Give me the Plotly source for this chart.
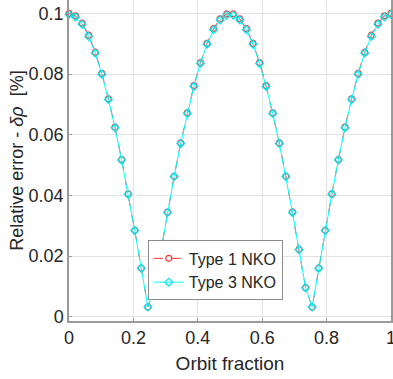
import plotly.graph_objects as go

orbit_fraction = [0.0, 0.0204, 0.0408, 0.0612, 0.0816, 0.1020, 0.1224, 0.1429, 0.1633, 0.1837,
                  0.2041, 0.2245, 0.2449, 0.2653, 0.2857, 0.3061, 0.3265, 0.3469, 0.3673, 0.3878,
                  0.4082, 0.4286, 0.4490, 0.4694, 0.4898, 0.5102, 0.5306, 0.5510, 0.5714, 0.5918,
                  0.6122, 0.6327, 0.6531, 0.6735, 0.6939, 0.7143, 0.7347, 0.7551, 0.7755, 0.7959,
                  0.8163, 0.8367, 0.8571, 0.8776, 0.8980, 0.9184, 0.9388, 0.9592, 0.9796, 1.0]

type1_err = [0.1000, 0.0992, 0.0968, 0.0928, 0.0872, 0.0802, 0.0718, 0.0625, 0.0518, 0.0405,
             0.0285, 0.0160, 0.0032, 0.0096, 0.0222, 0.0345, 0.0463, 0.0573, 0.0672, 0.0762,
             0.0838, 0.0901, 0.0950, 0.0982, 0.0998, 0.0998, 0.0982, 0.0950, 0.0901, 0.0838,
             0.0762, 0.0672, 0.0573, 0.0463, 0.0345, 0.0222, 0.0096, 0.0032, 0.0160, 0.0285,
             0.0405, 0.0518, 0.0625, 0.0718, 0.0802, 0.0872, 0.0928, 0.0968, 0.0992, 0.1000]

type3_err = [0.0996, 0.0988, 0.0964, 0.0924, 0.0869, 0.0799, 0.0716, 0.0623, 0.0517, 0.0404,
             0.0284, 0.0160, 0.0032, 0.0096, 0.0221, 0.0344, 0.0462, 0.0571, 0.0670, 0.0759,
             0.0835, 0.0898, 0.0946, 0.0978, 0.0994, 0.0994, 0.0978, 0.0946, 0.0898, 0.0835,
             0.0759, 0.0670, 0.0571, 0.0462, 0.0344, 0.0221, 0.0096, 0.0032, 0.0160, 0.0284,
             0.0404, 0.0517, 0.0623, 0.0716, 0.0799, 0.0869, 0.0924, 0.0964, 0.0988, 0.0996]

series_names = ["Type 1 NKO", "Type 3 NKO"]
x_ticks = [0, 0.2, 0.4, 0.6, 0.8, 1]
x_tick_labels = ["0", "0.2", "0.4", "0.6", "0.8", "1"]
y_ticks = [0, 0.02, 0.04, 0.06, 0.08, 0.1]
y_tick_labels = ["0", "0.02", "0.04", "0.06", "0.08", "0.1"]

FONT = "Liberation Sans, Arial, Helvetica, sans-serif"
TXT = "#262626"

fig = go.Figure()
fig.add_trace(go.Scatter(
    x=orbit_fraction, y=type1_err, name=series_names[0], mode="lines+markers",
    line=dict(color="#ff3030", width=1, dash="dash"),
    marker=dict(symbol="circle-open", size=6, color="#ff3030", line=dict(width=1.2)),
    cliponaxis=False,
))
fig.add_trace(go.Scatter(
    x=orbit_fraction, y=type3_err, name=series_names[1], mode="lines+markers",
    line=dict(color="#00ffff", width=1),
    marker=dict(symbol="diamond-open", size=6, color="#00e5ee", line=dict(width=1.2)),
    cliponaxis=False,
))

fig.update_layout(
    width=393, height=379,
    margin=dict(l=69, r=2, t=0, b=58),
    paper_bgcolor="white", plot_bgcolor="white",
    font=dict(family=FONT, size=16, color=TXT),
    showlegend=True,
    legend=dict(
        x=0.664, y=0.251, xanchor="right", yanchor="top",
        bgcolor="white", bordercolor="#8c8c8c", borderwidth=1,
        font=dict(family=FONT, size=16, color=TXT),
        itemwidth=30, tracegroupgap=0,
    ),
    xaxis=dict(
        range=[0, 1], tickvals=x_ticks, ticktext=x_tick_labels,
        showgrid=True, gridcolor="#e3e3e3", gridwidth=1,
        showline=True, linecolor="#9a9a9a", linewidth=1.5, mirror=True,
        ticks="inside", ticklen=3, tickcolor="#9a9a9a",
        zeroline=False, automargin=False, ticklabeloverflow="allow",
        tickfont=dict(size=18, color=TXT),
        title=dict(text="Orbit fraction", font=dict(size=19, color=TXT), standoff=9),
    ),
    yaxis=dict(
        range=[-0.0014, 0.1044], tickvals=y_ticks, ticktext=y_tick_labels,
        showgrid=True, gridcolor="#e3e3e3", gridwidth=1,
        showline=True, linecolor="#9a9a9a", linewidth=1.5, mirror=True,
        ticks="inside", ticklen=3, tickcolor="#9a9a9a",
        zeroline=False, automargin=False,
        tickfont=dict(size=18, color=TXT),
        title=dict(text="Relative error - <i>δρ</i>  [%]", font=dict(size=18, color=TXT), standoff=0),
    ),
)

fig.write_html(
    "out.html",
    config={"displayModeBar": False},
    post_script="document.body.style.margin='0';document.body.style.overflow='hidden';",
)
